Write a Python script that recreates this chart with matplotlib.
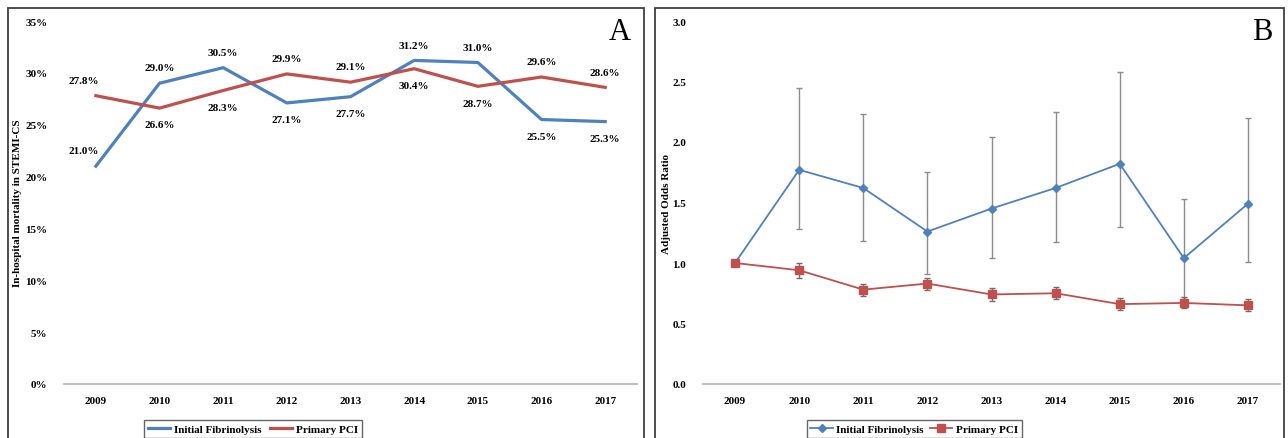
import numpy as np
import matplotlib
matplotlib.use("Agg")
import matplotlib.pyplot as plt
from matplotlib.patches import Rectangle

plt.rcParams['font.family'] = ['Liberation Serif', 'DejaVu Serif']

years = ['2009', '2010', '2011', '2012', '2013', '2014', '2015', '2016', '2017']

# panel A: in-hospital mortality (%)
mort_fib = [21.0, 29.0, 30.5, 27.1, 27.7, 31.2, 31.0, 25.5, 25.3]
mort_pci = [27.8, 26.6, 28.3, 29.9, 29.1, 30.4, 28.7, 29.6, 28.6]

# panel B: adjusted odds ratio with 95% CI
or_fib = [1.00, 1.77, 1.62, 1.26, 1.45, 1.62, 1.82, 1.04, 1.49]
or_fib_lo = [1.00, 1.28, 1.18, 0.91, 1.04, 1.17, 1.30, 0.70, 1.01]
or_fib_hi = [1.00, 2.45, 2.23, 1.75, 2.04, 2.25, 2.58, 1.53, 2.20]
or_pci = [1.00, 0.94, 0.78, 0.83, 0.74, 0.75, 0.66, 0.67, 0.65]
or_pci_lo = [1.00, 0.88, 0.73, 0.78, 0.69, 0.70, 0.61, 0.63, 0.60]
or_pci_hi = [1.00, 1.00, 0.83, 0.88, 0.79, 0.80, 0.71, 0.72, 0.70]

blue = '#4F81BD'
red = '#C0504D'
axis_gray = '#BFBFBF'

W, H = 1288, 439
fig = plt.figure(figsize=(W / 100, H / 100), dpi=100)

# panel frames
for x0, x1 in [(8, 644), (655, 1284)]:
    fig.add_artist(Rectangle((x0 / W, -0.05), (x1 - x0) / W, 1.05 - 9 / H,
                             transform=fig.transFigure, fill=False,
                             edgecolor='#404040', linewidth=1.3))

x = np.arange(len(years))
tick_font = dict(fontsize=8, fontweight='bold')


def style_axes(ax):
    for s in ['top', 'right', 'left']:
        ax.spines[s].set_visible(False)
    ax.spines['bottom'].set_color(axis_gray)
    ax.spines['bottom'].set_linewidth(1.5)
    ax.tick_params(length=0, pad=9)
    ax.tick_params(axis='y', pad=12)
    ax.set_xlim(-0.5, 8.5)
    ax.set_xticks(x)
    ax.set_xticklabels(years, **tick_font)
    for lab in ax.get_yticklabels():
        lab.set_fontsize(8)
        lab.set_fontweight('bold')


def style_legend(leg):
    leg.get_frame().set_edgecolor('#404040')
    leg.get_frame().set_linewidth(1.0)
    for t in leg.get_texts():
        t.set_fontweight('bold')


# ---- panel A ----
axA = fig.add_axes([64 / W, 1 - 385 / H, (637 - 64) / W, (385 - 22) / H])
axA.plot(x, mort_fib, color=blue, lw=2.3, label='Initial Fibrinolysis')
axA.plot(x, mort_pci, color=red, lw=2.3, label='Primary PCI')
axA.set_ylim(0, 35)
axA.set_yticks(np.arange(0, 36, 5))
axA.set_yticklabels(['%d%%' % v for v in range(0, 36, 5)])
style_axes(axA)
axA.set_ylabel('In-hospital mortality in STEMI-CS', fontsize=8, fontweight='bold')
axA.yaxis.set_label_coords(-0.073, 0.5)

for i in range(len(years)):
    for v, other in [(mort_fib[i], mort_pci[i]), (mort_pci[i], mort_fib[i])]:
        above = v >= other
        dx = -9 if i == 0 else 0
        dy = 11 if above else -12
        if i == 0 and v < other:
            dy = 11
        axA.annotate('%.1f%%' % v, (x[i], v), textcoords='offset points',
                     xytext=(dx, dy), ha='center', va='center',
                     fontsize=8, fontweight='bold')

legA = axA.legend(loc='upper center', bbox_to_anchor=(0.33, -0.085), ncol=2,
                  fontsize=8, frameon=True, fancybox=False, handlelength=2.0,
                  columnspacing=0.8, borderpad=0.35, handletextpad=0.3)
style_legend(legA)
fig.text(620 / W, 1 - 33 / H, 'A', fontsize=22, ha='center', va='center')

# ---- panel B ----
axB = fig.add_axes([703 / W, 1 - 385 / H, (1280 - 703) / W, (385 - 22) / H])
fib_err = [np.array(or_fib) - np.array(or_fib_lo), np.array(or_fib_hi) - np.array(or_fib)]
pci_err = [np.array(or_pci) - np.array(or_pci_lo), np.array(or_pci_hi) - np.array(or_pci)]
axB.errorbar(x, or_fib, yerr=fib_err, fmt='none', ecolor='#8C8C8C',
             elinewidth=1.0, capsize=2)
axB.errorbar(x, or_pci, yerr=pci_err, fmt='none', ecolor='#6E6E6E',
             elinewidth=1.0, capsize=2)
axB.plot(x, or_fib, color=blue, lw=1.3, marker='D', ms=4, label='Initial Fibrinolysis')
axB.plot(x, or_pci, color=red, lw=1.3, marker='s', ms=5.5, label='Primary PCI')
axB.set_ylim(0, 3)
axB.set_yticks(np.arange(0, 3.01, 0.5))
axB.set_yticklabels(['%.1f' % v for v in np.arange(0, 3.01, 0.5)])
style_axes(axB)
axB.set_ylabel('Adjusted Odds Ratio', fontsize=8, fontweight='bold')
axB.yaxis.set_label_coords(-0.056, 0.5)

legB = axB.legend(loc='upper center', bbox_to_anchor=(0.366, -0.085), ncol=2,
                  fontsize=8, frameon=True, fancybox=False, handlelength=2.0,
                  columnspacing=0.6, borderpad=0.35, handletextpad=0.3)
style_legend(legB)
fig.text(1262 / W, 1 - 33 / H, 'B', fontsize=22, ha='center', va='center')

fig.savefig('out.png', dpi=100)
